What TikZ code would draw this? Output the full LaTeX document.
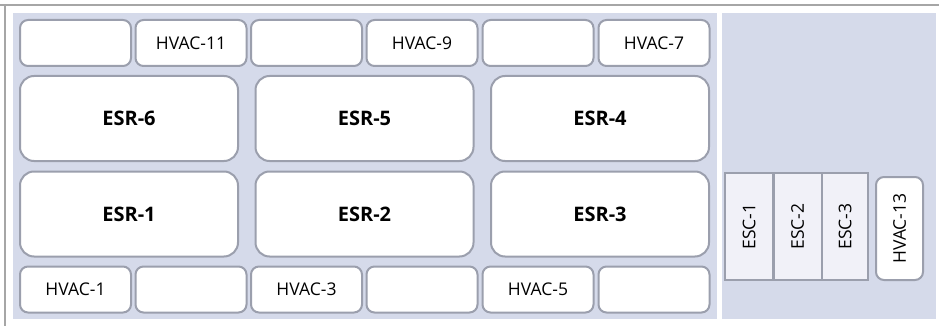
\documentclass[tikz,border=0pt]{standalone}
\usepackage{fontspec}
\setmainfont{Open Sans}
\usepackage{tikz}
\usepackage{xcolor}
\definecolor{panel-blue}{HTML}{D5DAEA}
\definecolor{box-line}{HTML}{9B9FAD}
\definecolor{esc-fill}{HTML}{F1F1F8}
\definecolor{frame-gray}{HTML}{A6A6A6}
\tikzset{
    panel/.style = {fill=panel-blue, draw=none},
    hvac-box/.style = {draw=box-line, fill=white, line width=2pt, rectangle, rounded corners=8pt, minimum width=111pt, minimum height=46pt, font=\fontsize{17.5}{20}\selectfont, inner sep=0pt},
    esr-box/.style = {draw=box-line, fill=white, line width=2pt, rectangle, rounded corners=14pt, minimum width=218pt, minimum height=85pt, font=\fontsize{20}{24}\selectfont\bfseries, inner sep=0pt},
    esc-box/.style = {draw=box-line, fill=esc-fill, line width=2pt, rectangle, minimum width=48pt, minimum height=107pt, font=\fontsize{17.5}{20}\selectfont, inner sep=0pt},
}

\begin{document}
\begin{tikzpicture}[x=1pt, y=-1pt]
\useasboundingbox (0,0) rectangle (939,326);
% outer frame and the two panels
\draw[frame-gray, line width=2.5pt] (0,5) -- (5,5) coordinate (corner) -- (939,5);
\draw[frame-gray, line width=2.5pt] (corner) -- (5,326);
\fill[panel] (13,13) rectangle (717,319);
\fill[panel] (722,13) rectangle (936,319);

% top row
\node[hvac-box] (top-a) at (75.5,43) {};
\node[hvac-box] (hvac-11) at (191,43) {HVAC-11};
\node[hvac-box] (top-b) at (306.5,43) {};
\node[hvac-box] (hvac-9) at (422,43) {HVAC-9};
\node[hvac-box] (top-c) at (538,43) {};
\node[hvac-box] (hvac-7) at (654,43) {HVAC-7};

% equipment rooms
\node[esr-box] (esr-6) at (129,118.5) {ESR-6};
\node[esr-box] (esr-5) at (364.5,118.5) {ESR-5};
\node[esr-box] (esr-4) at (600,118.5) {ESR-4};
\node[esr-box] (esr-1) at (129,214) {ESR-1};
\node[esr-box] (esr-2) at (364.5,214) {ESR-2};
\node[esr-box] (esr-3) at (600,214) {ESR-3};

% bottom row
\node[hvac-box] (hvac-1) at (75.5,289.5) {HVAC-1};
\node[hvac-box] (bot-a) at (191,289.5) {};
\node[hvac-box] (hvac-3) at (306.5,289.5) {HVAC-3};
\node[hvac-box] (bot-b) at (422,289.5) {};
\node[hvac-box] (hvac-5) at (538,289.5) {HVAC-5};
\node[hvac-box] (bot-c) at (654,289.5) {};

% escalators
\node[esc-box] (esc-1) at (749,226.5) {\rotatebox{90}{ESC-1}};
\node[esc-box] (esc-2) at (797.5,226.5) {\rotatebox{90}{ESC-2}};
\node[esc-box, minimum width=46pt] (esc-3) at (845,226.5) {\rotatebox{90}{ESC-3}};
\node[hvac-box, minimum width=47pt, minimum height=103pt] (hvac-13) at (899.5,228.5) {\rotatebox{90}{HVAC-13}};
\end{tikzpicture}
\end{document}
